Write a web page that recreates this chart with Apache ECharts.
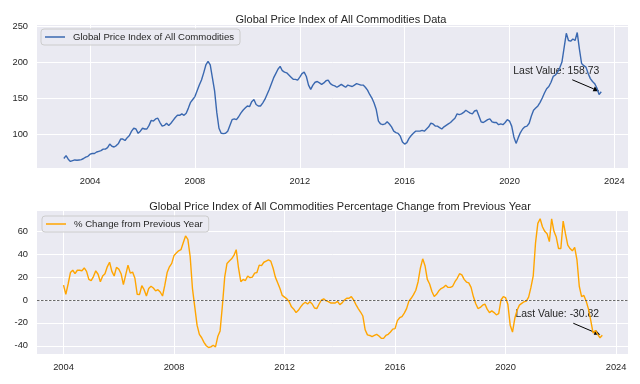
<!DOCTYPE html>
<html>
<head>
<meta charset="utf-8">
<script src="https://cdn.jsdelivr.net/npm/echarts@6/dist/echarts.min.js"></script>
<style>html,body{margin:0;padding:0;background:#fff}#c{width:640px;height:384px}</style>
</head>
<body>
<div id="c"></div>
<script>
// ---- data (monthly) ----
const priceStartYear = 2003; // Jan 2003
const priceValues = [
66,70,65,62,63,64,63.5,64,64.5,66,68,69,
72,73,73,75,76,77,79,79,81,86,83,82,
84,87,93,93,91,95,98,104,108,107,101,104,
108,107,107,112,119,118,121,122,116,111,112,115,
112,115,119,123,126,126,128,126,129,136,144,148,
152,160,168,175,185,196,201,196,178,160,130,108,
101,100.5,101,104,112,120,121,120,124,129,133,136,
139,138,145,148,141,139,139,143,148,155,162,170,
178,184,190,194,188,186,185,182,179,176,176,175,
179,184,186,180,168,162,168,172,173,171,169,171,
174,175,170,168,167,165,167,169,167,165,168,167,
166,168,170,169,168,168,165,161,155,150,143,134,
118,114,113,114,117,114,110,104,102,101,97,89,
86,88,94,98,101,104,104,104,105,104,107,110,
115,114,111,111,109,107,110,112,114,116,119,122,
128,127,128,130,133,131,129,128,132,133,125,117,
116,118,120,121,117,116,116,113,114,113,116,120,
118,111,96,87,95,102,107,110,111,115,125,133,
136,139,144,150,157,163,166,172,180,182,186,192,
200,220,240,230,229,232,230,241,218,198,195,193,
184,177,173,170,164,155,158.73
];
const changeStartYear = 2004; // Jan 2004
const changeValues = [
13,5,14,24,26,23,26,26,25.6,28,25,18,
17,20.5,25.5,22.5,16,21,23,29,33,25,21,28.5,
27,23,13.4,22,30.5,23.5,24.4,19,5,4.7,12.5,9,
3.5,10,12,10.5,8,9,7,3.5,13,24,29,32,
39,41,43,44,50,56,53,38,10,-6,-22,-30,
-33,-37,-40,-41.5,-41,-39.5,-41,-32,-27,-5,20,32,
34,36,39,44,28,16,18,17,21,19.5,20,23.5,
24,30.5,30,33,34,35,34,28,20,15,10,4,
2.5,1,-1.5,-6,-8,-11,-9,-6,-3.5,-2,-3.5,-1.5,
-3.5,-7,-7.5,-3.5,0,1,-0.6,-1.5,-2.6,-2.6,-2.6,-1.2,
-4,-2.5,0,1.5,1.5,3,0,-4,-7.5,-10.5,-14,-26,
-30.5,-31,-32,-31,-30,-31.5,-33.5,-33.5,-31,-30,-28,-25.5,
-25,-18,-15.5,-14.5,-11.5,-7.5,-1,1.5,4.7,8.5,16,28,
36,30,18,14,7.5,3,5,8,10,11,13,11,
11,12,16,19,23,22,18,15.7,15,11,3,-3,
-7.5,-6.5,-4.5,-3.5,-8,-11,-9.5,-11,-13,-12,0,3,
2,-4,-22,-28,-16,-9,-4.5,-3,-1.5,-1,2.5,11,
21,50,67,71,64,60,58,51,71,60,55,45,
45,69,58,48,45,43,46,35,12,3,4,-1,
-8,-18,-29,-26.5,-30,-33,-30.82
];
const yearTicks = [2004, 2008, 2012, 2016, 2020, 2024];
const priceTicks = [100, 150, 200, 250];
const changeTicks = [-40, -20, 0, 20, 40, 60];
const priceName = 'Global Price Index of All Commodities';
const changeName = '% Change from Previous Year';
const title1 = 'Global Price Index of All Commodities Data';
const title2 = 'Global Price Index of All Commodities Percentage Change from Previous Year';

const priceData = priceValues.map((v, i) => [priceStartYear + i / 12, v]);
const changeData = changeValues.map((v, i) => [changeStartYear + i / 12, v]);

const FONT = '"Liberation Sans", Arial, sans-serif';
const TXT = '#262626';
const chart = echarts.init(document.getElementById('c'), null, {renderer: 'canvas'});

function xAxis(gi, min, max) {
  return {
    type: 'value', gridIndex: gi, min: min, max: max,
    axisLine: {show: false},
    axisTick: {show: false, customValues: yearTicks},
    axisLabel: {customValues: yearTicks, color: TXT, fontSize: 9.3, fontFamily: FONT, margin: 9,
      formatter: v => String(Math.round(v))},
    splitLine: {show: true, lineStyle: {color: '#ffffff', width: 1}}
  };
}
function yAxis(gi, min, max, ticks) {
  return {
    type: 'value', gridIndex: gi, min: min, max: max,
    axisLine: {show: false},
    axisTick: {show: false, customValues: ticks},
    axisLabel: {customValues: ticks, color: TXT, fontSize: 9.3, fontFamily: FONT, margin: 9},
    splitLine: {show: true, lineStyle: {color: '#ffffff', width: 1}}
  };
}
function legend(name, left, top) {
  return {
    data: [{name: name, icon: 'rect'}], left: left, top: top, orient: 'horizontal',
    itemWidth: 20, itemHeight: 1.5, padding: [3, 6, 3, 4],
    backgroundColor: 'rgba(234,234,242,0.85)', borderColor: '#cccccc', borderWidth: 1, borderRadius: 3,
    textStyle: {color: TXT, fontSize: 9.6, fontFamily: FONT, padding: [0, 0, 0, 3]},
    selectedMode: false
  };
}

chart.setOption({
  animation: false,
  backgroundColor: '#ffffff',
  title: [
    {text: title1, left: 336, top: 9, textAlign: 'center',
      textStyle: {fontSize: 11, fontWeight: 'normal', color: TXT, fontFamily: FONT}},
    {text: title2, left: 335, top: 196, textAlign: 'center',
      textStyle: {fontSize: 11, fontWeight: 'normal', color: TXT, fontFamily: FONT}}
  ],
  legend: [legend(priceName, 41, 29), legend(changeName, 42, 216)],
  grid: [
    {left: 37, right: 12, top: 25, height: 143, show: true, backgroundColor: '#EAEAF2', borderWidth: 0},
    {left: 37, right: 12, top: 211, height: 143, show: true, backgroundColor: '#EAEAF2', borderWidth: 0}
  ],
  xAxis: [xAxis(0, 2001.975, 2024.52), xAxis(1, 2003.04, 2024.43)],
  yAxis: [yAxis(0, 52.8, 251.5, priceTicks), yAxis(1, -47.2, 77.8, changeTicks)],
  series: [
    {name: priceName, type: 'line', xAxisIndex: 0, yAxisIndex: 0, data: priceData,
      showSymbol: false, color: '#3a68b0', lineStyle: {width: 1.4, color: '#3a68b0'}},
    {name: changeName, type: 'line', xAxisIndex: 1, yAxisIndex: 1, data: changeData,
      showSymbol: false, color: '#FFA500', lineStyle: {width: 1.4, color: '#FFA500'},
      markLine: {silent: true, symbol: 'none', label: {show: false},
        lineStyle: {color: '#444444', type: [2.5, 1.5], width: 0.8},
        data: [{yAxis: 0}]}}
  ]
});

function annotation(gi, pt, label) {
  const p = chart.convertToPixel({gridIndex: gi}, pt);
  const sx = p[0] - 29, sy = p[1] - 12;
  const ex = p[0] - 2, ey = p[1] - 0.5;
  const ang = Math.atan2(ey - sy, ex - sx);
  const L = 6, W = 2.6;
  const bx = ex - L * Math.cos(ang), by = ey - L * Math.sin(ang);
  const nx = -Math.sin(ang) * W, ny = Math.cos(ang) * W;
  return [
    {type: 'text', x: p[0] - 45, y: p[1] - 21, style: {text: label, fill: TXT, fontSize: 10.4,
      fontFamily: FONT, align: 'center', verticalAlign: 'middle'}},
    {type: 'line', shape: {x1: sx, y1: sy, x2: bx, y2: by}, style: {stroke: '#000', lineWidth: 1}},
    {type: 'polygon', shape: {points: [[ex, ey], [bx + nx, by + ny], [bx - nx, by - ny]]},
      style: {fill: '#000'}}
  ];
}
const lastP = priceData[priceData.length - 1];
const lastC = changeData[changeData.length - 1];
chart.setOption({
  graphic: [].concat(
    annotation(0, lastP, 'Last Value: ' + lastP[1].toFixed(2)),
    annotation(1, lastC, 'Last Value: ' + lastC[1].toFixed(2))
  )
});
</script>
</body>
</html>
